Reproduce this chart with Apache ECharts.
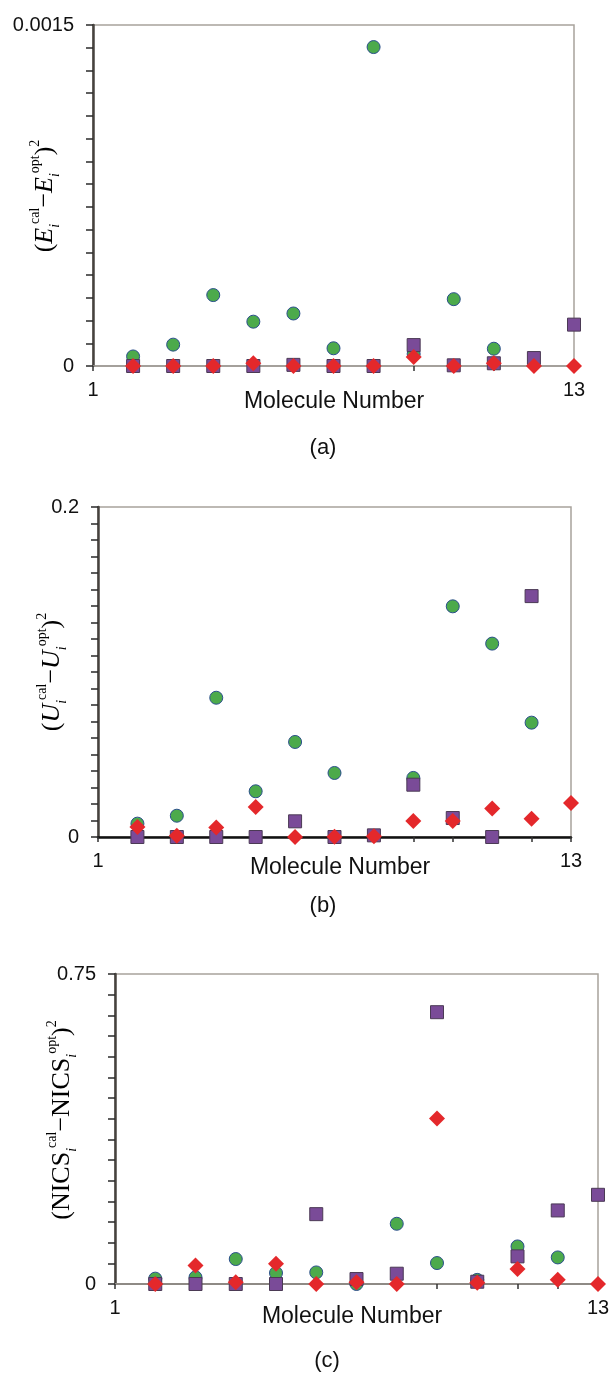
<!DOCTYPE html>
<html>
<head>
<meta charset="utf-8">
<script src="https://cdn.jsdelivr.net/npm/echarts@6/dist/echarts.min.js"></script>
<style>
  html, body { margin: 0; padding: 0; background: #fff; }
  #chart { width: 614px; height: 1374px; }
</style>
</head>
<body>
<div id="chart"></div>
<script>
  // molecule numbers on the x axis
  const molecules = [2, 3, 4, 5, 6, 7, 8, 9, 10, 11, 12, 13];

  // (a) squared energy deviation
  const energyCircle  = [0.000042, 0.000094, 0.000312, 0.000195, 0.000231, 0.000078, 0.001403, 0.000053, 0.000294, 0.000076, null, null];
  const energySquare  = [0, 0, 0, 0, 0.000005, 0, 0, 0.000092, 0.000003, 0.000012, 0.000035, 0.000182];
  const energyDiamond = [0, 0, 0, 0.000012, 0, 0, 0, 0.000040, 0, 0.000012, 0, 0];

  // (b) squared U deviation
  const uCircle  = [0.0081, 0.0129, 0.0844, 0.0277, 0.0576, 0.0388, null, 0.0358, 0.1398, 0.1172, 0.0693, null];
  const uSquare  = [0, 0, 0, 0, 0.0095, 0, 0.0010, 0.0317, 0.0115, 0, 0.1460, null];
  const uDiamond = [0.0061, 0.0008, 0.0057, 0.0182, 0, 0.0002, 0.0004, 0.0097, 0.0097, 0.0172, 0.0111, 0.0206];

  // (c) squared NICS deviation
  const nicsCircle  = [0.013, 0.016, 0.0604, 0.0266, 0.028, 0, 0.1457, 0.0507, 0.010, 0.0909, 0.0643, null];
  const nicsSquare  = [0, 0, 0, 0, 0.169, 0.012, 0.0249, 0.6576, 0.0055, 0.0668, 0.178, 0.2158];
  const nicsDiamond = [0, 0.045, 0.004, 0.049, 0, 0.004, 0, 0.4003, 0.003, 0.0362, 0.0104, 0];

  const yMax = [0.0015, 0.2, 0.75];
  const yStep = [0.0001, 0.01, 0.05];
  const yMaxLabel = ['0.0015', '0.2', '0.75'];

  const GREEN = '#4caa4b', PURPLE = '#7a4b98', RED = '#e4282b';

  const toPoints = arr => molecules.map((m, i) => arr[i] == null ? null : [m, arr[i]]).filter(p => p);

  const grids = [
    {left: 93, top: 25, width: 481, height: 341},
    {left: 98, top: 507, width: 473, height: 330},
    {left: 115, top: 974, width: 483, height: 310}
  ];
  const bottomLine = [
    {color: '#9c9892', width: 1.5},
    {color: '#111111', width: 2.5},
    {color: '#8e8a85', width: 2}
  ];

  const xAxes = grids.map((g, k) => ({
    type: 'value', gridIndex: k, min: 1, max: 13, interval: 1,
    splitLine: {show: false},
    axisLine: {lineStyle: bottomLine[k]},
    axisTick: {length: 5, lineStyle: {color: '#333', width: 1.5}},
    axisLabel: {
      margin: 14, fontSize: 20, color: '#111', fontFamily: 'Liberation Sans',
      formatter: v => (v === 1 || v === 13) ? String(v) : ''
    }
  }));
  const yAxes = grids.map((g, k) => ({
    type: 'value', gridIndex: k, min: 0, max: yMax[k], interval: yStep[k],
    splitLine: {show: false},
    axisLine: {lineStyle: {color: '#46423e', width: 2.5}},
    axisTick: {length: 7, lineStyle: {color: '#2a2a2a', width: 1.5}},
    axisLabel: {
      margin: 19, fontSize: 20, color: '#111', fontFamily: 'Liberation Sans',
      formatter: v => v === 0 ? '0' : (Math.abs(v - yMax[k]) < yStep[k] / 100 ? yMaxLabel[k] : '')
    }
  }));

  const panels = [
    [energyCircle, energySquare, energyDiamond],
    [uCircle, uSquare, uDiamond],
    [nicsCircle, nicsSquare, nicsDiamond]
  ];
  const series = [];
  panels.forEach((p, k) => {
    series.push({
      type: 'scatter', xAxisIndex: k, yAxisIndex: k, clip: false,
      symbol: 'circle', symbolSize: 13, data: toPoints(p[0]),
      itemStyle: {color: GREEN, borderColor: '#2b4f8c', borderWidth: 1, opacity: 1}
    });
    series.push({
      type: 'scatter', xAxisIndex: k, yAxisIndex: k, clip: false,
      symbol: 'rect', symbolSize: 13, data: toPoints(p[1]),
      itemStyle: {color: PURPLE, borderColor: '#4b3a55', borderWidth: 1, opacity: 1}
    });
    series.push({
      type: 'scatter', xAxisIndex: k, yAxisIndex: k, clip: false,
      symbol: 'diamond', symbolSize: 16, data: toPoints(p[2]),
      itemStyle: {color: RED, opacity: 1}
    });
  });

  const serif = 'Liberation Serif';
  const rich = {
    m: {fontFamily: serif, fontSize: 26, lineHeight: 34, color: '#111'},
    mi: {fontFamily: serif, fontSize: 26, lineHeight: 34, fontStyle: 'italic', color: '#111'},
    sup: {fontFamily: serif, fontSize: 14, lineHeight: 18, verticalAlign: 'top', color: '#111'},
    sub: {fontFamily: serif, fontSize: 14, lineHeight: 14, verticalAlign: 'bottom', fontStyle: 'italic', color: '#111'}
  };
  const yNames = [
    '{m|(}{mi|E}{sub|i}{sup|cal}{m|−}{mi|E}{sub|i}{sup|opt}{m|)}{sup|2}',
    '{m|(}{mi|U}{sub|i}{sup|cal}{m|−}{mi|U}{sub|i}{sup|opt}{m|)}{sup|2}',
    '{m|(NICS}{sub|i}{sup|cal}{m|−NICS}{sub|i}{sup|opt}{m|)}{sup|2}'
  ];
  const yNamePos = [[45, 196], [52, 672], [62, 1120]];
  const xNamePos = [[334, 402], [340, 868], [352, 1317]];
  const captionPos = [[323, 448], [323, 906], [327, 1361]];
  const captions = ['(a)', '(b)', '(c)'];

  const graphic = [];
  [0, 1, 2].forEach(k => {
    graphic.push({
      type: 'text', x: yNamePos[k][0], y: yNamePos[k][1], rotation: Math.PI / 2,
      style: {text: yNames[k], rich: rich, align: 'center', verticalAlign: 'middle'}
    });
    graphic.push({
      type: 'text', x: xNamePos[k][0], y: xNamePos[k][1],
      style: {text: 'Molecule Number', fontFamily: 'Liberation Sans', fontSize: 23, fill: '#111', align: 'center', verticalAlign: 'middle'}
    });
    graphic.push({
      type: 'text', x: captionPos[k][0], y: captionPos[k][1],
      style: {text: captions[k], fontFamily: 'Liberation Sans', fontSize: 22, fill: '#111', align: 'center', verticalAlign: 'middle'}
    });
  });

  const chart = echarts.init(document.getElementById('chart'));
  chart.setOption({
    animation: false,
    backgroundColor: '#fff',
    grid: grids.map(g => Object.assign({show: true, borderColor: '#a8a39c', borderWidth: 1.5, backgroundColor: 'transparent'}, g)),
    xAxis: xAxes,
    yAxis: yAxes,
    series: series,
    graphic: graphic
  });
</script>
</body>
</html>
